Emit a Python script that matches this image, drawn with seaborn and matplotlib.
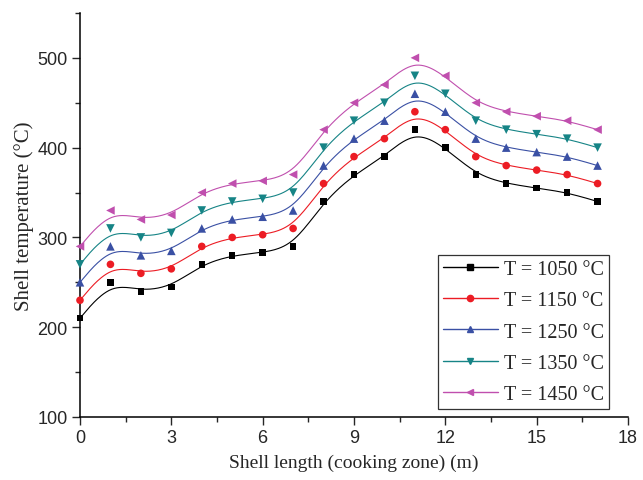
import matplotlib
import numpy as np
import pandas as pd

matplotlib.use("Agg")
import matplotlib.pyplot as plt
import seaborn as sns
from matplotlib.lines import Line2D
from matplotlib.ticker import MultipleLocator

# shell positions (m)
length_m = list(range(18))

temp_1050 = [210, 250, 240, 245, 270, 280, 283, 290, 340, 370, 390, 420, 400, 370, 360, 355, 350, 340]
temp_1150 = [230, 270, 260, 265, 290, 300, 303, 310, 360, 390, 410, 440, 420, 390, 380, 375, 370, 360]
temp_1250 = [250, 290, 280, 285, 310, 320, 323, 330, 380, 410, 430, 460, 440, 410, 400, 395, 390, 380]
temp_1350 = [270, 310, 300, 305, 330, 340, 343, 350, 400, 430, 450, 480, 460, 430, 420, 415, 410, 400]
temp_1450 = [290, 330, 320, 325, 350, 360, 363, 370, 420, 450, 470, 500, 480, 450, 440, 435, 430, 420]

labels = ["T = 1050 °C", "T = 1150 °C", "T = 1250 °C", "T = 1350 °C", "T = 1450 °C"]
series = [temp_1050, temp_1150, temp_1250, temp_1350, temp_1450]
colors = ["#000000", "#ec1c24", "#3a50a4", "#168486", "#c04fae"]
markers = ["s", "o", "^", "v", "<"]
msizes = [22, 30, 38, 38, 38]


def bspline(x, y, n=24):
    # clamped uniform cubic B-spline (data points used as control points)
    px = np.concatenate([[x[0]] * 2, x, [x[-1]] * 2]).astype(float)
    py = np.concatenate([[y[0]] * 2, y, [y[-1]] * 2]).astype(float)
    t = np.linspace(0, 1, n)
    b0 = (1 - t) ** 3 / 6
    b1 = (3 * t**3 - 6 * t**2 + 4) / 6
    b2 = (-3 * t**3 + 3 * t**2 + 3 * t + 1) / 6
    b3 = t**3 / 6
    xs, ys = [], []
    for i in range(len(px) - 3):
        xs.append(b0 * px[i] + b1 * px[i + 1] + b2 * px[i + 2] + b3 * px[i + 3])
        ys.append(b0 * py[i] + b1 * py[i + 1] + b2 * py[i + 2] + b3 * py[i + 3])
    return np.concatenate(xs), np.concatenate(ys)


sns.set_style("ticks")
serif = ["Liberation Serif", "DejaVu Serif"]
sans = ["Liberation Sans", "DejaVu Sans"]

fig = plt.figure(figsize=(6.43, 4.81), dpi=100)
ax = fig.add_axes([0.1244, 0.131, 0.8523, 0.84])

for lab, vals, col, mk, ms in zip(labels, series, colors, markers, msizes):
    sx, sy = bspline(np.array(length_m), np.array(vals))
    curve = pd.DataFrame({"x": sx, "y": sy})
    pts = pd.DataFrame({"x": length_m, "y": vals})
    sns.lineplot(data=curve, x="x", y="y", sort=False, color=col, lw=0.8, ax=ax)
    sns.scatterplot(data=pts, x="x", y="y", color=col, marker=mk, s=ms,
                    edgecolor="none", ax=ax, zorder=3, clip_on=False)

ax.set_xlim(0, 18)
ax.set_ylim(100, 550)
ax.xaxis.set_major_locator(MultipleLocator(3))
ax.xaxis.set_minor_locator(MultipleLocator(1.5))
ax.yaxis.set_major_locator(MultipleLocator(100))
ax.yaxis.set_minor_locator(MultipleLocator(50))
ax.tick_params(which="major", direction="out", length=6, width=1, pad=3, labelsize=13)
ax.tick_params(which="minor", direction="out", length=3.5, width=1)
for lbl in ax.get_xticklabels() + ax.get_yticklabels():
    lbl.set_family(sans)
sns.despine(ax=ax)
for s in ["left", "bottom"]:
    ax.spines[s].set_linewidth(1.1)
    ax.spines[s].set_color("black")

ax.set_xlabel("Shell length (cooking zone) (m)", family=serif, fontsize=14, labelpad=5)
ax.set_ylabel("Shell temperature (°C)", family=serif, fontsize=15, labelpad=2)

handles = [Line2D([0], [0], color=c, marker=m, markersize=4.5, lw=1) for c, m in zip(colors, markers)]
leg = ax.legend(handles, labels, loc="lower right", bbox_to_anchor=(0.965, 0.02),
                borderaxespad=0, frameon=True, fancybox=False, edgecolor="black",
                prop={"family": serif, "size": 14.5}, handlelength=2.7, handletextpad=0.3,
                labelspacing=0.6, borderpad=0.25)
leg.get_frame().set_linewidth(0.9)

fig.savefig("out.png", dpi=100)
